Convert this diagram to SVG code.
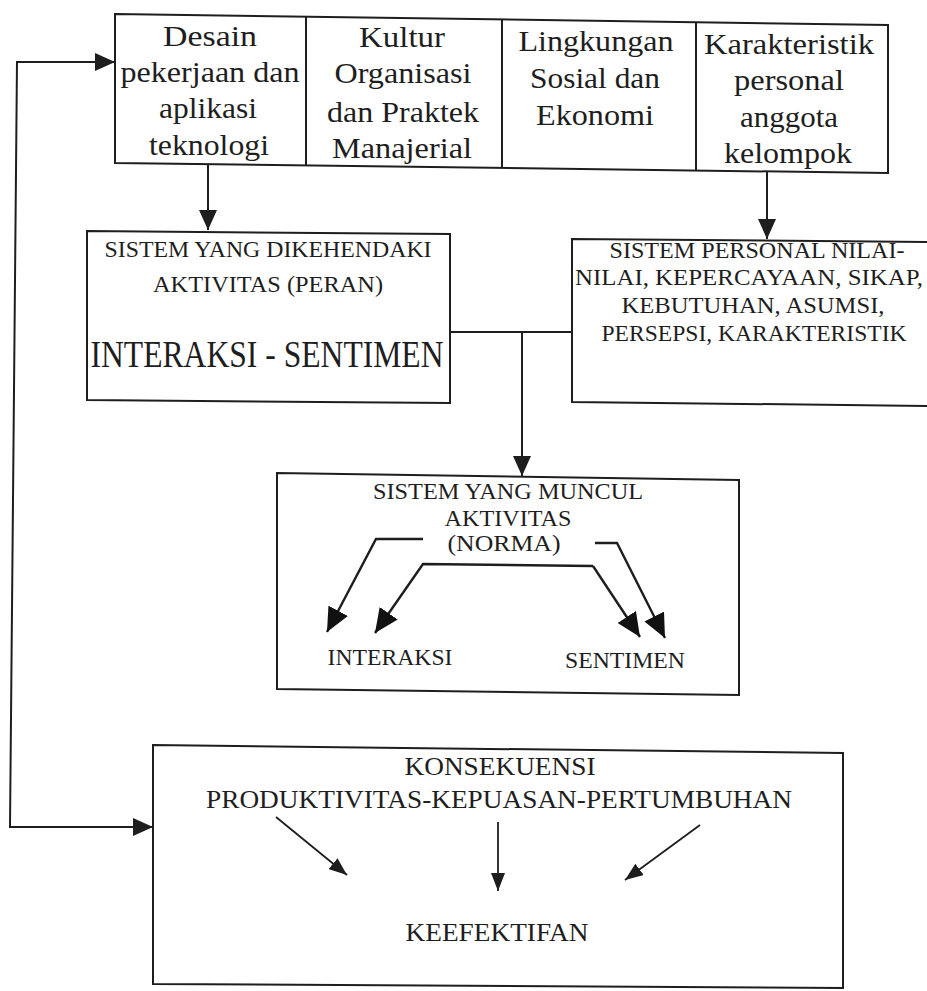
<svg xmlns="http://www.w3.org/2000/svg" width="927" height="991" viewBox="0 0 927 991">
  <style>
    .box { fill: none; stroke: #1e1e1e; stroke-width: 2; }
    .ln { fill: none; stroke: #1e1e1e; stroke-width: 2; }
    .lnb { fill: none; stroke: #1e1e1e; stroke-width: 2.4; }
    .lns { fill: none; stroke: #1e1e1e; stroke-width: 1.8; }
    text { font-family: "Liberation Serif", "Times New Roman", serif; fill: #1e1e1e; text-anchor: middle; }
    .t30 { font-size: 30px; }
    .t23 { font-size: 23px; }
    .t26 { font-size: 26px; }
    .t36 { font-size: 37px; }
  </style>
  <defs>
    <marker id="ah" markerUnits="userSpaceOnUse" markerWidth="20" markerHeight="18" refX="20" refY="9" orient="auto-start-reverse" viewBox="0 0 20 18">
      <path d="M0,0 L20,9 L0,18 Z" fill="#1e1e1e"/>
    </marker>
    <marker id="ahL" markerUnits="userSpaceOnUse" markerWidth="24" markerHeight="22" refX="24" refY="11" orient="auto" viewBox="0 0 24 22">
      <path d="M0,0 L24,11 L0,22 Z" fill="#111"/>
    </marker>
    <marker id="ahS" markerUnits="userSpaceOnUse" markerWidth="18" markerHeight="14" refX="18" refY="7" orient="auto" viewBox="0 0 18 14">
      <path d="M0,0 L18,7 L0,14 Z" fill="#1e1e1e"/>
    </marker>
  </defs>
  <rect x="0" y="0" width="927" height="991" fill="#ffffff"/>

  <g id="top-factors">
    <path class="box" d="M115,14 L888,25 L888,173 L115,163 Z"/>
    <path class="box" d="M306,17 L306,166 M502,19.5 L502,168 M696,22 L696,170.5"/>
    <g id="desain">
      <text class="t30" x="210" y="46" textLength="94" lengthAdjust="spacingAndGlyphs">Desain</text>
      <text class="t30" x="210" y="82" textLength="179" lengthAdjust="spacingAndGlyphs">pekerjaan dan</text>
      <text class="t30" x="208" y="118" textLength="98" lengthAdjust="spacingAndGlyphs">aplikasi</text>
      <text class="t30" x="209" y="155" textLength="120" lengthAdjust="spacingAndGlyphs">teknologi</text>
    </g>
    <g id="kultur">
      <text class="t30" x="402" y="47" textLength="86" lengthAdjust="spacingAndGlyphs">Kultur</text>
      <text class="t30" x="403" y="83" textLength="137" lengthAdjust="spacingAndGlyphs">Organisasi</text>
      <text class="t30" x="403" y="122" textLength="152" lengthAdjust="spacingAndGlyphs">dan Praktek</text>
      <text class="t30" x="402" y="158" textLength="140" lengthAdjust="spacingAndGlyphs">Manajerial</text>
    </g>
    <g id="lingkungan">
      <text class="t30" x="596" y="51" textLength="155" lengthAdjust="spacingAndGlyphs">Lingkungan</text>
      <text class="t30" x="595" y="88" textLength="130" lengthAdjust="spacingAndGlyphs">Sosial dan</text>
      <text class="t30" x="595" y="125" textLength="118" lengthAdjust="spacingAndGlyphs">Ekonomi</text>
    </g>
    <g id="karakteristik">
      <text class="t30" x="789" y="54" textLength="170" lengthAdjust="spacingAndGlyphs">Karakteristik</text>
      <text class="t30" x="789" y="90" textLength="110" lengthAdjust="spacingAndGlyphs">personal</text>
      <text class="t30" x="789" y="127" textLength="98" lengthAdjust="spacingAndGlyphs">anggota</text>
      <text class="t30" x="788" y="163" textLength="128" lengthAdjust="spacingAndGlyphs">kelompok</text>
    </g>
  </g>

  <g id="sistem-dikehendaki">
    <path class="box" d="M87,231 L450,234 L450,403 L87,400 Z"/>
    <text class="t23" x="268" y="257" textLength="327" lengthAdjust="spacingAndGlyphs">SISTEM YANG DIKEHENDAKI</text>
    <text class="t23" x="268" y="292" textLength="230" lengthAdjust="spacingAndGlyphs">AKTIVITAS (PERAN)</text>
    <text class="t36" x="267" y="367" textLength="353" lengthAdjust="spacingAndGlyphs">INTERAKSI - SENTIMEN</text>
  </g>

  <g id="sistem-personal">
    <path class="box" d="M930,242 L572,239 L572,402 L930,406"/>
    <text class="t23" x="757" y="258" textLength="295" lengthAdjust="spacingAndGlyphs">SISTEM PERSONAL NILAI-</text>
    <text class="t23" x="749" y="285" textLength="348" lengthAdjust="spacingAndGlyphs">NILAI, KEPERCAYAAN, SIKAP,</text>
    <text class="t23" x="753" y="313" textLength="263" lengthAdjust="spacingAndGlyphs">KEBUTUHAN, ASUMSI,</text>
    <text class="t23" x="754" y="341" textLength="305" lengthAdjust="spacingAndGlyphs">PERSEPSI, KARAKTERISTIK</text>
  </g>

  <g id="sistem-muncul">
    <path class="box" d="M277,473 L739,480 L739,695 L277,689 Z"/>
    <text class="t23" x="508" y="499" textLength="270" lengthAdjust="spacingAndGlyphs">SISTEM YANG MUNCUL</text>
    <text class="t23" x="508" y="526" textLength="127" lengthAdjust="spacingAndGlyphs">AKTIVITAS</text>
    <text class="t23" x="504" y="551" textLength="113" lengthAdjust="spacingAndGlyphs">(NORMA)</text>
    <text class="t23" x="390" y="665" textLength="125" lengthAdjust="spacingAndGlyphs">INTERAKSI</text>
    <text class="t23" x="625" y="668" textLength="120" lengthAdjust="spacingAndGlyphs">SENTIMEN</text>
    <path class="lnb" d="M423,539 L376,539 L327,632" marker-end="url(#ahL)"/>
    <path class="lnb" d="M593,566 L423,564 L375,633" marker-end="url(#ahL)"/>
    <path class="lnb" d="M593,566 L640,637" marker-end="url(#ahL)"/>
    <path class="lnb" d="M595,543 L617,543 L665,638" marker-end="url(#ahL)"/>
  </g>

  <g id="konsekuensi">
    <path class="box" d="M153,745 L843,753 L843,988 L153,984 Z"/>
    <text class="t26" x="500" y="775" textLength="191" lengthAdjust="spacingAndGlyphs">KONSEKUENSI</text>
    <text class="t26" x="499" y="808" textLength="586" lengthAdjust="spacingAndGlyphs">PRODUKTIVITAS-KEPUASAN-PERTUMBUHAN</text>
    <text class="t26" x="497" y="941" textLength="183" lengthAdjust="spacingAndGlyphs">KEEFEKTIFAN</text>
    <path class="lns" d="M276,817 L347,875" marker-end="url(#ahS)"/>
    <path class="lns" d="M498,822 L498,891" marker-end="url(#ahS)"/>
    <path class="lns" d="M700,825 L625,880" marker-end="url(#ahS)"/>
  </g>

  <g id="connectors">
    <path class="ln" d="M208,164 L208,230" marker-end="url(#ah)"/>
    <path class="ln" d="M767,172 L767,239" marker-end="url(#ah)"/>
    <path class="ln" d="M450,332 L572,332"/>
    <path class="ln" d="M522,332 L522,476" marker-end="url(#ah)"/>
    <path class="ln" d="M115,62 L17,62 L10,827 L153,827" marker-start="url(#ah)" marker-end="url(#ah)"/>
  </g>
</svg>
